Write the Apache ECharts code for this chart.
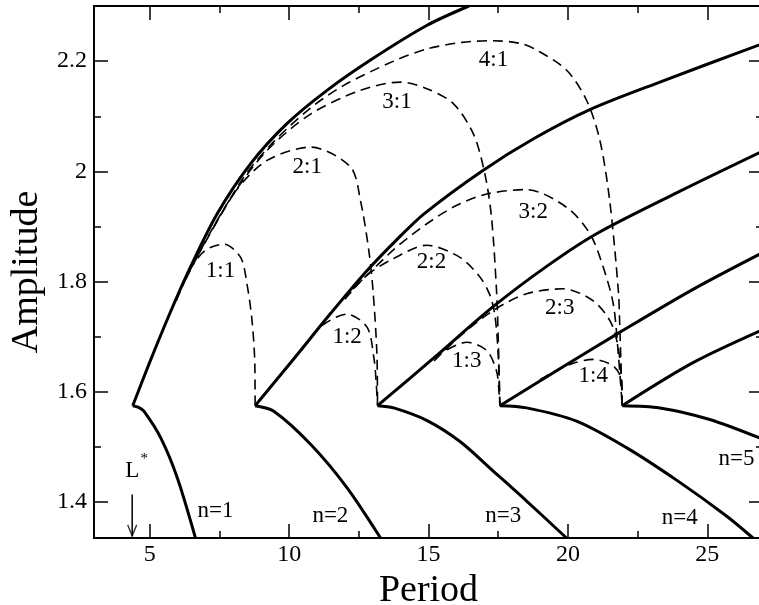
<!DOCTYPE html>
<html>
<head>
<meta charset="utf-8">
<script src="https://cdn.jsdelivr.net/npm/echarts@6/dist/echarts.min.js"></script>
<style>
  html, body { margin: 0; padding: 0; background: #fff; }
  #chart { width: 759px; height: 605px; }
</style>
</head>
<body>
<div id="chart"></div>
<script>
// ---- data: [period, amplitude] ----
// solid branches, upper part (n = 1..5)
const n1Up = [[4.39,1.575],[5.0,1.654],[5.7,1.74],[6.4,1.82],[7.42,1.923],[8.62,2.014],[9.93,2.087],[11.36,2.147],[12.92,2.202],[14.95,2.265],[16.45,2.3]];
const n2Up = [[8.78,1.575],[10.2,1.662],[11.5,1.743],[12.76,1.818],[13.9,1.878],[14.84,1.923],[16.9,2.0],[18.8,2.06],[20.79,2.112],[23.3,2.162],[27,2.232]];
const n3Up = [[13.17,1.575],[15.2,1.662],[17.33,1.755],[19.3,1.83],[21.03,1.887],[23.9,1.961],[27,2.037]];
const n4Up = [[17.56,1.575],[19.71,1.642],[21.86,1.708],[24.49,1.786],[27,1.853]];
const n5Up = [[21.95,1.575],[24.49,1.653],[27,1.713]];
// solid branches, lower part
const n1Lo = [[4.39,1.575],[4.6,1.572],[4.79,1.565],[5.39,1.517],[5.99,1.444],[6.64,1.335]];
const n2Lo = [[8.78,1.575],[9.45,1.565],[10.77,1.505],[12.08,1.426],[13.28,1.335]];
const n3Lo = [[13.17,1.575],[13.75,1.571],[14.95,1.548],[16.13,1.51],[17.33,1.456],[18.52,1.402],[19.95,1.335]];
const n4Lo = [[17.56,1.575],[18.52,1.571],[20.31,1.547],[22.1,1.499],[23.9,1.44],[25.69,1.375],[26.64,1.335]];
const n5Lo = [[21.95,1.575],[23.3,1.571],[25.09,1.55],[27,1.514]];
// dashed branches (p:q)
const d11 = [[5.95,1.765],[6.5,1.826],[7.0,1.857],[7.66,1.868],[8.26,1.844],[8.49,1.795],[8.67,1.729],[8.77,1.65],[8.78,1.575]];
const d21 = [[6.3,1.805],[7.18,1.89],[8.14,1.968],[9.21,2.02],[10.77,2.044],[12.2,2.008],[12.56,1.947],[12.86,1.856],[13.01,1.784],[13.15,1.668],[13.17,1.575]];
const d31 = [[6.7,1.845],[8.02,1.96],[9.21,2.038],[10.77,2.104],[12.56,2.147],[13.99,2.162],[14.94,2.15],[15.89,2.123],[16.61,2.068],[17.02,1.996],[17.26,1.917],[17.44,1.784],[17.5,1.7],[17.56,1.575]];
const d41 = [[7.3,1.9],[8.38,1.99],[9.45,2.054],[10.77,2.115],[11.96,2.156],[13.75,2.2],[14.94,2.222],[16.2,2.234],[17.33,2.237],[18.3,2.232],[18.88,2.22],[19.95,2.184],[20.67,2.129],[21.15,2.056],[21.5,1.947],[21.81,1.784],[21.86,1.723],[21.95,1.575]];
const d12 = [[10.45,1.676],[11.12,1.718],[12.08,1.741],[12.8,1.717],[13.04,1.662],[13.12,1.62],[13.17,1.575]];
const d22 = [[12.0,1.768],[12.8,1.812],[13.75,1.842],[14.94,1.866],[16.13,1.844],[16.85,1.808],[17.2,1.776],[17.38,1.74],[17.5,1.668],[17.56,1.575]];
const d32 = [[12.3,1.787],[13.75,1.858],[14.94,1.905],[16.0,1.938],[17.09,1.959],[18.52,1.967],[19.95,1.935],[20.79,1.887],[21.27,1.826],[21.63,1.759],[21.81,1.668],[21.95,1.575]];
const d13 = [[15.2,1.66],[15.53,1.673],[16.38,1.69],[17.09,1.675],[17.44,1.638],[17.53,1.6],[17.56,1.575]];
const d23 = [[15.2,1.656],[16.13,1.701],[17.33,1.748],[18.52,1.778],[19.83,1.787],[20.91,1.765],[21.57,1.723],[21.86,1.662],[21.95,1.575]];
const d14 = [[19.0,1.622],[19.48,1.636],[20.2,1.652],[20.91,1.659],[21.63,1.647],[21.93,1.62],[21.95,1.575]];

// text labels placed in data coordinates
const labelText = ['1:1','2:1','3:1','4:1','1:2','2:2','3:2','1:3','2:3','1:4','n=1','n=2','n=3','n=4','n=5','L','*'];
const labelX    = [7.54, 10.65, 13.87, 17.33, 12.08, 15.11, 18.76, 16.37, 19.71, 20.91, 7.36, 11.48, 17.68, 24.01, 26.05, 4.37, 4.8];
const labelY    = [1.82, 2.008, 2.126, 2.202, 1.699, 1.835, 1.926, 1.656, 1.753, 1.629, 1.384, 1.375, 1.375, 1.371, 1.478, 1.456, 1.479];

// L* arrow
const arrowX = 4.37;
const arrowY = [1.414, 1.338];

// ticks
const xMajor = [5, 10, 15, 20, 25];
const xMinor = [7.5, 12.5, 17.5, 22.5];
const yMajor = [1.4, 1.6, 1.8, 2.0, 2.2];
const yMinor = [1.5, 1.7, 1.9, 2.1];

const FONT = '"Liberation Serif", "Times New Roman", serif';
const X_MIN = 3, X_MAX = 27, Y_MIN = 1.335, Y_MAX = 2.3;

function xAxis(pos, ticks, len, withLine, withLabel) {
  return {
    type: 'value', position: pos, min: X_MIN, max: X_MAX,
    axisLine: { show: withLine, onZero: false, lineStyle: { color: '#000', width: 2 } },
    axisTick: { show: true, inside: true, length: len, customValues: ticks, lineStyle: { color: '#000', width: 1.5 } },
    axisLabel: withLabel
      ? { show: true, customValues: ticks, fontFamily: FONT, fontSize: 24, color: '#000', margin: 5 }
      : { show: false },
    splitLine: { show: false }
  };
}
function yAxis(pos, ticks, len, withLine, withLabel) {
  return {
    type: 'value', position: pos, min: Y_MIN, max: Y_MAX,
    axisLine: { show: withLine, onZero: false, lineStyle: { color: '#000', width: 2 } },
    axisTick: { show: true, inside: true, length: len, customValues: ticks, lineStyle: { color: '#000', width: 1.5 } },
    axisLabel: withLabel
      ? { show: true, customValues: ticks, fontFamily: FONT, fontSize: 24, color: '#000', margin: 7 }
      : { show: false },
    splitLine: { show: false }
  };
}

const xAxes = [
  xAxis('bottom', xMajor, 14, true, true),
  xAxis('bottom', xMinor, 7, false, false),
  xAxis('top', xMajor, 14, true, false),
  xAxis('top', xMinor, 7, false, false)
];
Object.assign(xAxes[0], {
  name: 'Period', nameLocation: 'middle', nameGap: 18,
  nameTextStyle: { fontFamily: FONT, fontSize: 38, color: '#000' }
});
const yAxes = [
  yAxis('left', yMajor, 14, true, true),
  yAxis('left', yMinor, 7, false, false),
  yAxis('right', yMajor, 14, true, false),
  yAxis('right', yMinor, 7, false, false)
];
Object.assign(yAxes[0], {
  name: 'Amplitude', nameLocation: 'middle', nameGap: 42,
  nameTextStyle: { fontFamily: FONT, fontSize: 38, color: '#000' }
});

function curve(data, dashed) {
  return {
    type: 'line', data: data, smooth: 0.3,
    symbol: 'none', silent: true,
    xAxisIndex: 0, yAxisIndex: 0,
    lineStyle: dashed
      ? { color: '#000', width: 1.6, type: [10, 6] }
      : { color: '#000', width: 3, join: 'round' }
  };
}

const solids = [n1Up, n2Up, n3Up, n4Up, n5Up, n1Lo, n2Lo, n3Lo, n4Lo, n5Lo];
const dashes = [d11, d21, d31, d41, d12, d22, d32, d13, d23, d14];

const series = [];
solids.forEach(d => series.push(curve(d, false)));
dashes.forEach(d => series.push(curve(d, true)));

series.push({
  type: 'line', silent: true, symbol: 'none',
  data: arrowY.map(y => [arrowX, y]),
  lineStyle: { color: '#000', width: 1.5 }
});
series.push({
  type: 'scatter', silent: true,
  data: [[arrowX, 1.349]],
  symbol: 'path://M0,0L5,10L10,0', symbolSize: [9, 11],
  itemStyle: { color: 'none', borderColor: '#000', borderWidth: 1.5 }
});

const labelData = labelText.map((t, i) => ({ name: t, value: [labelX[i], labelY[i]] }));
labelData[16].label = { fontSize: 15 };   // small star of L*

series.push({
  type: 'scatter', silent: true, symbol: 'circle', symbolSize: 0.01,
  itemStyle: { color: '#000', opacity: 1 },
  data: labelData,
  label: {
    show: true, position: 'inside',
    formatter: p => p.name,
    fontFamily: FONT, fontSize: 23, color: '#000',
    textBorderWidth: 0, opacity: 1
  },
  clip: false
});

const chart = echarts.init(document.getElementById('chart'));
chart.setOption({
  animation: false,
  backgroundColor: '#fff',
  grid: { left: 94, right: -4, top: 6, bottom: 67, outerBoundsMode: 'none' },
  xAxis: xAxes,
  yAxis: yAxes,
  series: series
});
</script>
</body>
</html>
